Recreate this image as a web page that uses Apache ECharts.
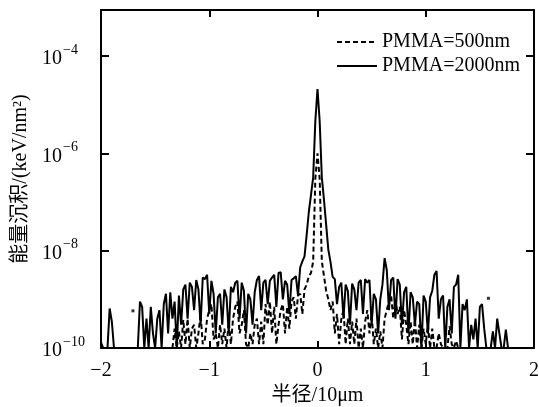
<!DOCTYPE html>
<html>
<head>
<meta charset="utf-8">
<script src="https://cdn.jsdelivr.net/npm/echarts@6/dist/echarts.min.js"></script>
<style>html,body{margin:0;padding:0;background:#fff}#c{width:539px;height:407px}</style>
</head>
<body>
<div id="c"></div>
<script>
// Sampling grid of the radius axis (units of 10 µm)
const radiusStart = -2;
const radiusStep = 0.02;
const xTicks = [-2, -1, 0, 1, 2];
const yTickExponents = [-10, -8, -6, -4];
const seriesNames = ['PMMA=500nm', 'PMMA=2000nm'];

// PMMA = 2000 nm (solid), keV/nm^2, one value per grid point (201 values)
const energy2000 = [
  1.3e-10, 1e-10, 1e-10, 1e-10, 6.5e-10, 3.5e-10, 1e-10, 1e-10, 1e-10, 1e-10,
  1e-10, 1e-10, 1e-10, 1e-10, 1e-10, 1e-10, 1e-10, 1e-10, 9e-10, 7e-10,
  1e-10, 4e-10, 1e-10, 7e-10, 2e-10, 1e-10, 4e-10, 6e-10, 1e-10, 8e-10,
  1.3e-9, 2e-10, 1.4e-9, 4e-10, 9e-10, 1e-10, 1.2e-9, 3e-10, 1.6e-9, 2e-9,
  4e-10, 2.2e-9, 1.8e-9, 6e-10, 2.5e-9, 1.6e-9, 3e-10, 2.8e-9, 2.6e-9, 3.2e-9,
  5e-10, 2.4e-9, 1.3e-9, 2e-10, 1.1e-9, 1.3e-9, 3e-10, 1.6e-9, 1.1e-9, 2e-10,
  1.8e-9, 1.4e-9, 2.2e-9, 2.4e-9, 4e-10, 2.2e-9, 1.5e-9, 2e-10, 1.3e-9, 1e-9,
  3e-10, 1.4e-9, 2.5e-9, 3e-9, 6e-10, 2.2e-9, 2.5e-9, 8e-10, 2.4e-9, 2.8e-9,
  3.2e-9, 7e-10, 3.5e-9, 3.6e-9, 1e-9, 2.4e-9, 2e-9, 5e-10, 2.5e-9, 2.7e-9,
  3e-9, 1.2e-9, 4.5e-9, 6e-9, 7.6e-9, 2.1e-8, 6.3e-8, 1.4e-7, 3.2e-7, 4.6e-6,
  2.1e-5,
  4.6e-6, 3.2e-7, 1.1e-7, 3.4e-8, 1.05e-8, 5.9e-9, 2.9e-9, 2.6e-9, 8e-10, 1.8e-9,
  2.2e-9, 4e-10, 2e-9, 1.5e-9, 3e-10, 2.1e-9, 1.6e-9, 6e-10, 2.2e-9, 2.5e-9,
  5e-10, 2.6e-9, 2.2e-9, 2.5e-9, 3e-10, 1.3e-9, 1e-9, 2e-10, 1e-9, 2e-9,
  7e-9, 4e-9, 6e-10, 2.5e-9, 2.8e-9, 4e-10, 2.6e-9, 2e-9, 3e-10, 1.4e-9,
  1.8e-9, 2e-10, 1.4e-9, 1.1e-9, 3e-10, 9e-10, 8e-10, 1e-10, 1.2e-9, 9e-10,
  2e-10, 1.1e-9, 1.5e-9, 3.2e-9, 3.8e-9, 4e-10, 1e-9, 1.2e-9, 1e-10, 7e-10,
  1e-9, 2e-10, 1.8e-9, 2e-9, 3.2e-9, 1e-10, 8e-10, 6e-10, 1e-9, 1e-10,
  3e-10, 1.5e-10, 4e-10, 1e-10, 7e-10, 8e-10, 2.5e-10, 1e-10, 1e-10, 1e-10,
  2.2e-10, 1e-10, 4e-10, 2e-10, 1e-10, 1e-10, 2.4e-10, 1e-10, 1e-10, 1e-10,
  1e-10, 1e-10, 1e-10, 1e-10, 1e-10, 1e-10, 1e-10, 1e-10, 1e-10, 1e-10
];

// PMMA = 500 nm (dashed), null where nothing was deposited (201 values)
const energy500 = [
  null, null, null, null, null, null, null, null, null, null,
  null, null, null, null, null, null, null, null, null, null,
  null, null, null, null, null, null, null, null, null, null,
  null, null, null, 1e-10, 2.5e-10, 1e-10, 2.2e-10, 1e-10, 3.8e-10, 1.2e-10,
  4e-10, 1e-10, 2.5e-10, 3e-10, 1e-10, 2e-10, 5e-10, 1.2e-10, 1.5e-10, 4e-10,
  6e-10, 8e-10, 1.5e-10, 2e-10, 1e-10, 3e-10, 1.2e-10, 2.5e-10, 1e-10, 3.5e-10,
  1.2e-10, 4e-10, 7e-10, 9e-10, 2e-10, 3e-10, 6e-10, 1.2e-10, 1e-10, 2e-10,
  1.2e-10, 3e-10, 4e-10, 1.2e-10, 3.5e-10, 1.2e-10, 8e-10, 3e-10, 9e-10, 2e-10,
  7e-10, 1.2e-10, 3e-10, 6e-10, 8e-10, 2e-10, 7e-10, 2.5e-10, 9e-10, 1.1e-9,
  4e-10, 1.2e-9, 1.3e-9, 5e-10, 1.6e-9, 2e-9, 3e-9, 3.5e-9, 6e-9, 3e-7,
  1e-6,
  3e-7, 6e-9, 3e-9, 1.5e-9, 1e-9, 6e-10, 9e-10, 2e-10, 5e-10, 1.2e-10,
  4e-10, 6e-10, 1.2e-10, 4e-10, 1.2e-10, 3.5e-10, 1.2e-10, 4e-10, 1e-10, 2.5e-10,
  1e-10, 3.5e-10, 6e-10, 2e-10, 5e-10, 1.2e-10, 2.5e-10, 1e-10, 2.2e-10, 1e-10,
  4e-10, 6e-10, 9e-10, 1.2e-9, 4e-10, 1e-9, 5e-10, 7e-10, 1.5e-10, 6e-10,
  3e-10, 1.2e-10, 3.5e-10, 1.2e-10, 3.8e-10, 1e-10, 3e-10, 1e-10, 2.5e-10, 1.2e-10,
  3e-10, 1e-10, 2.5e-10, 1e-10, 1e-10, 2e-10, 1.2e-10, 1e-10, 1e-10, 1e-10,
  2.8e-10, 1.2e-10, 1e-10, 1.4e-10, 1e-10, null, null, null, null, null,
  null, null, null, null, null, null, null, null, null, null,
  null, null, null, null, null, null, null, null, null, null,
  null, null, null, null, null, null, null, null, null, null
];

// Isolated single deposits
const isolatedX = [-1.705, 1.579];
const isolatedY = [5.8e-10, 1.05e-9];

const toPairs = (vals) => vals.map((v, i) => [+(radiusStart + i * radiusStep).toFixed(3), v]);

const FONT = '"Liberation Serif", "Times New Roman", "Noto Sans CJK SC", serif';

const chart = echarts.init(document.getElementById('c'), null, {renderer: 'canvas'});

const yFmt = (v) => {
  const l = Math.log10(v);
  const e = Math.round(l);
  if (Math.abs(l - e) > 1e-6 || yTickExponents.indexOf(e) < 0) return '';
  return '{b|10}{s|\u2212' + (-e) + '}';
};

chart.setOption({
  animation: false,
  backgroundColor: '#fff',
  grid: {left: 101, right: 5, top: 10, bottom: 59, containLabel: false, outerBoundsMode: 'none'},
  legend: {
    orient: 'vertical',
    left: 331,
    top: 27,
    itemWidth: 40,
    itemHeight: 20,
    itemGap: 4,
    data: seriesNames,
    itemStyle: {opacity: 0},
    textStyle: {fontFamily: FONT, fontSize: 20, color: '#000'}
  },
  xAxis: [{
    type: 'value',
    min: -2, max: 2, interval: 1,
    name: '半径/10μm',
    nameLocation: 'middle',
    nameGap: 37,
    nameTextStyle: {fontFamily: FONT, fontSize: 20, color: '#000'},
    axisLine: {show: true, onZero: false, lineStyle: {color: '#000', width: 2}},
    axisTick: {show: true, inside: true, length: 7, lineStyle: {color: '#000', width: 2}},
    axisLabel: {
      margin: 13, fontFamily: FONT, fontSize: 20, color: '#000',
      formatter: (v) => xTicks.indexOf(v) >= 0 ? String(v).replace('-', '\u2212') : ''
    },
    splitLine: {show: false}
  }, {
    type: 'value', position: 'top',
    min: -2, max: 2, interval: 1,
    axisLine: {show: true, onZero: false, lineStyle: {color: '#000', width: 2}},
    axisTick: {show: true, inside: true, length: 7, lineStyle: {color: '#000', width: 2}},
    axisLabel: {show: false},
    splitLine: {show: false}
  }],
  yAxis: [{
    type: 'log',
    min: 1e-10, max: 8.8e-4, interval: 2,
    name: '能量沉积/(keV/nm²)',
    nameLocation: 'middle',
    nameRotate: 90,
    nameGap: 68,
    nameTextStyle: {fontFamily: FONT, fontSize: 20, color: '#000'},
    axisLine: {show: true, onZero: false, lineStyle: {color: '#000', width: 2}},
    axisTick: {show: true, inside: true, length: 8, lineStyle: {color: '#000', width: 2}},
    axisLabel: {
      margin: 59, align: 'left', color: '#000',
      formatter: yFmt,
      rich: {
        b: {fontFamily: FONT, fontSize: 20, color: '#000', lineHeight: 26, verticalAlign: 'bottom'},
        s: {fontFamily: FONT, fontSize: 14, color: '#000', lineHeight: 26, verticalAlign: 'top', padding: [0, 0, 0, 1]}
      }
    },
    minorTick: {show: false},
    splitLine: {show: false}
  }, {
    type: 'log', position: 'right',
    min: 1e-10, max: 8.8e-4, interval: 2,
    axisLine: {show: true, onZero: false, lineStyle: {color: '#000', width: 2}},
    axisTick: {show: true, inside: true, length: 8, lineStyle: {color: '#000', width: 2}},
    axisLabel: {show: false},
    splitLine: {show: false}
  }],
  series: [{
    name: seriesNames[0],
    type: 'line',
    data: toPairs(energy500),
    showSymbol: false,
    symbol: 'none',
    connectNulls: false,
    z: 3,
    lineStyle: {color: '#000', width: 2, type: [5, 3]},
    itemStyle: {color: '#000'}
  }, {
    name: seriesNames[1],
    type: 'line',
    data: toPairs(energy2000),
    showSymbol: false,
    symbol: 'none',
    z: 2,
    lineStyle: {color: '#000', width: 2, type: 'solid'},
    itemStyle: {color: '#000'}
  }, {
    name: 'isolated',
    type: 'scatter',
    data: isolatedX.map((x, i) => [x, isolatedY[i]]),
    symbol: 'rect',
    symbolSize: 3,
    itemStyle: {color: '#000'},
    z: 4
  }]
});
</script>
</body>
</html>
